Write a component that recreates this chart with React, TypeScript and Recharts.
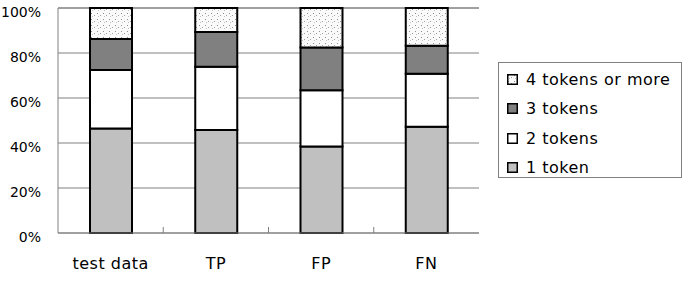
import React from 'react';
import { BarChart, Bar, XAxis, YAxis, CartesianGrid } from 'recharts';

const categories = ['test data', 'TP', 'FP', 'FN'];
const oneToken = [46.5, 45.8, 38.4, 47.2];
const twoTokens = [26.0, 28.1, 25.0, 23.6];
const threeTokens = [13.7, 15.4, 19.0, 12.4];
const fourPlus = [13.8, 10.7, 17.6, 16.8];
const yTicks = [0, 20, 40, 60, 80, 100];

const data = categories.map((c, i) => ({
  name: c,
  t1: oneToken[i],
  t2: twoTokens[i],
  t3: threeTokens[i],
  t4: fourPlus[i],
}));

const W = 685;
const H = 282;
const margin = { top: 8, right: 206, bottom: 0, left: 0 };
const yAxisW = 58;
const xAxisH = 49;
const plotW = W - margin.left - margin.right - yAxisW;
const band = plotW / categories.length;
const FONT = '"DejaVu Sans", sans-serif';
const GRID = '#808080';
const X_MARGIN = 25;

const legendItems = [
  { label: '4 tokens or more', fill: 'url(#dots)' },
  { label: '3 tokens', fill: '#808080' },
  { label: '2 tokens', fill: '#ffffff' },
  { label: '1 token', fill: '#c0c0c0' },
];

const XTick = (props: any) => {
  const { x, y, payload, index } = props;
  const axisY = y - X_MARGIN;
  return (
    <g>
      {index > 0 && (
        <line x1={x - band / 2} x2={x - band / 2} y1={axisY - 6} y2={axisY} stroke={GRID} strokeWidth={1} />
      )}
      <text x={x} y={y} dy="0.71em" textAnchor="middle" fontFamily={FONT} fontSize={16} letterSpacing={0.5} fill="#000">
        {payload.value}
      </text>
    </g>
  );
};

const LegendBox = () => (
  <div
    style={{
      position: 'absolute',
      left: 498,
      top: 62,
      border: '1px solid #808080',
      width: 184,
      height: 116,
      boxSizing: 'border-box',
      fontFamily: FONT,
      fontSize: 16,
      letterSpacing: 0.5,
      paddingTop: 2,
      background: '#fff',
    }}
  >
    {legendItems.map((it) => (
      <div key={it.label} style={{ display: 'flex', alignItems: 'center', height: 29.3, paddingLeft: 8, whiteSpace: 'nowrap' }}>
        <svg width={11} height={11} style={{ marginRight: 8 }}>
          <rect x={0.75} y={0.75} width={9.5} height={9.5} fill={it.fill} stroke="#000" strokeWidth={1.5} />
        </svg>
        <span>{it.label}</span>
      </div>
    ))}
  </div>
);

export default function App() {
  return (
    <div style={{ position: 'absolute', left: 0, top: 0, width: W, height: H, background: '#fff' }}>
      <svg width={0} height={0} style={{ position: 'absolute' }}>
        <defs>
          <pattern id="dots" width={6} height={6} patternUnits="userSpaceOnUse">
            <rect width={6} height={6} fill="#fafafa" />
            <rect x={1} y={1} width={1} height={1} fill="#909090" />
            <rect x={4} y={3} width={1} height={1} fill="#a0a0a0" />
            <rect x={2} y={4} width={1} height={1} fill="#c0c0c0" />
          </pattern>
        </defs>
      </svg>
      <BarChart width={W} height={H} data={data} margin={margin} barSize={42}>
        <CartesianGrid yAxisId="left" vertical={false} stroke={GRID} strokeWidth={1} />
        <XAxis
          dataKey="name"
          height={xAxisH}
          tickSize={0}
          tickMargin={X_MARGIN}
          axisLine={{ stroke: GRID }}
          tick={<XTick />}
          interval={0}
        />
        <YAxis
          yAxisId="left"
          width={yAxisW}
          domain={[0, 100]}
          ticks={yTicks}
          interval={0}
          tickFormatter={(v: number) => `${v}%`}
          tickSize={0}
          tickMargin={17}
          axisLine={{ stroke: GRID }}
          tick={{ fontFamily: FONT, fontSize: 14, fill: '#000', dy: 4 }}
        />
        <YAxis yAxisId="right" orientation="right" width={0} domain={[0, 100]} tick={false} tickLine={false} axisLine={{ stroke: GRID }} />
        <Bar yAxisId="left" dataKey="t1" stackId="a" fill="#c0c0c0" stroke="#000" strokeWidth={2} isAnimationActive={false} />
        <Bar yAxisId="left" dataKey="t2" stackId="a" fill="#ffffff" stroke="#000" strokeWidth={2} isAnimationActive={false} />
        <Bar yAxisId="left" dataKey="t3" stackId="a" fill="#808080" stroke="#000" strokeWidth={2} isAnimationActive={false} />
        <Bar yAxisId="left" dataKey="t4" stackId="a" fill="url(#dots)" stroke="#000" strokeWidth={2} isAnimationActive={false} />
      </BarChart>
      <LegendBox />
    </div>
  );
}
